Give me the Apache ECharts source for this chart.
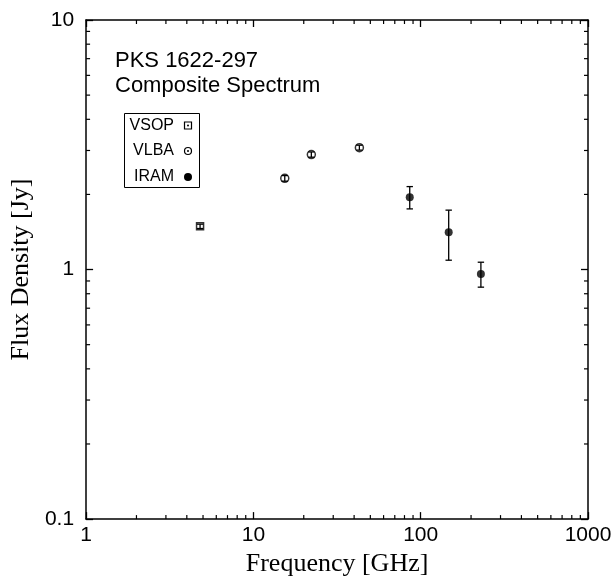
<!DOCTYPE html>
<html>
<head>
<meta charset="utf-8">
<script src="https://cdn.jsdelivr.net/npm/echarts@6/dist/echarts.min.js"></script>
<style>html,body{margin:0;padding:0;background:#fff}#c{width:615px;height:582px}</style>
</head>
<body>
<div id="c"></div>
<script>
// ---- data ----
const vsopFreq = [4.8];
const vsopFlux = [1.49];
const vsopErr  = [0.03];

const vlbaFreq = [15.4, 22.2, 43.0];
const vlbaFlux = [2.32, 2.89, 3.08];
const vlbaErr  = [0.06, 0.07, 0.07];

const iramFreq = [86, 147, 229];
const iramFlux = [1.95, 1.41, 0.96];
const iramErr  = [0.20, 0.32, 0.11];

const xTickLabels = ['1', '10', '100', '1000'];
const yTickLabels = ['0.1', '1', '10'];
const legendNames = ['VSOP', 'VLBA', 'IRAM'];

const SANS = '"Liberation Sans", Arial, sans-serif';
const SERIF = '"Liberation Serif", "Times New Roman", serif';

// minor tick values (2..9 per decade)
const xMinor = [], yMinor = [];
[1, 10, 100].forEach(d => { for (let k = 2; k <= 9; k++) xMinor.push([k * d, 1]); });
[0.1, 1].forEach(d => { for (let k = 2; k <= 9; k++) yMinor.push([1, k * d]); });

const zip3 = (a, b, c) => a.map((v, i) => [v, b[i], c[i]]);

function errRender(params, api) {
  const x = api.value(0), y = api.value(1), e = api.value(2);
  const hi = api.coord([x, y + e]);
  const lo = api.coord([x, y - e]);
  const w = 3.2;
  const st = { stroke: '#000', lineWidth: 1.3 };
  return {
    type: 'group',
    children: [
      { type: 'line', shape: { x1: hi[0], y1: hi[1], x2: lo[0], y2: lo[1] }, style: st },
      { type: 'line', shape: { x1: hi[0] - w, y1: hi[1], x2: hi[0] + w, y2: hi[1] }, style: st },
      { type: 'line', shape: { x1: lo[0] - w, y1: lo[1], x2: lo[0] + w, y2: lo[1] }, style: st }
    ]
  };
}

function xMinorRender(params, api) {
  const cs = params.coordSys;
  const p = api.coord([api.value(0), api.value(1)]);
  const L = 4;
  const st = { stroke: '#000', lineWidth: 1.2 };
  return {
    type: 'group',
    children: [
      { type: 'line', shape: { x1: p[0], y1: cs.y + cs.height, x2: p[0], y2: cs.y + cs.height - L }, style: st },
      { type: 'line', shape: { x1: p[0], y1: cs.y, x2: p[0], y2: cs.y + L }, style: st }
    ]
  };
}
function yMinorRender(params, api) {
  const cs = params.coordSys;
  const p = api.coord([api.value(0), api.value(1)]);
  const L = 4;
  const st = { stroke: '#000', lineWidth: 1.2 };
  return {
    type: 'group',
    children: [
      { type: 'line', shape: { x1: cs.x, y1: p[1], x2: cs.x + L, y2: p[1] }, style: st },
      { type: 'line', shape: { x1: cs.x + cs.width, y1: p[1], x2: cs.x + cs.width - L, y2: p[1] }, style: st }
    ]
  };
}

const axisLineStyle = { color: '#000', width: 1.5 };
const tickStyle = { show: true, inside: true, length: 7, lineStyle: { color: '#000', width: 1.3 } };

const chart = echarts.init(document.getElementById('c'), null, { renderer: 'canvas' });
const option = {
  backgroundColor: '#fff',
  animation: false,
  title: {
    text: 'PKS 1622-297\nComposite Spectrum',
    left: 110, top: 44,
    textStyle: { fontFamily: SANS, fontSize: 22, fontWeight: 'normal', color: '#000', lineHeight: 24.5 }
  },
  grid: { left: 82, right: 27, top: 20, bottom: 56, containLabel: false },
  xAxis: [
    {
      type: 'log', logBase: 10, min: 1, max: 1000, position: 'bottom',
      name: 'Frequency [GHz]', nameLocation: 'middle', nameGap: 28,
      nameTextStyle: { fontFamily: SERIF, fontSize: 26, color: '#000' },
      axisLine: { show: true, lineStyle: axisLineStyle },
      axisTick: tickStyle,
      splitLine: { show: false },
      axisLabel: {
        margin: 6, color: '#000', fontFamily: SANS, fontSize: 21,
        formatter: v => { const i = Math.round(Math.log10(v)); return xTickLabels[i]; }
      }
    },
    {
      type: 'log', logBase: 10, min: 1, max: 1000, position: 'top',
      axisLine: { show: true, lineStyle: axisLineStyle },
      axisTick: tickStyle, axisLabel: { show: false }, splitLine: { show: false }
    }
  ],
  yAxis: [
    {
      type: 'log', logBase: 10, min: 0.1, max: 10, position: 'left',
      name: 'Flux Density [Jy]', nameLocation: 'middle', nameGap: 47,
      nameTextStyle: { fontFamily: SERIF, fontSize: 26, color: '#000' },
      axisLine: { show: true, lineStyle: axisLineStyle },
      axisTick: tickStyle,
      splitLine: { show: false },
      axisLabel: {
        margin: 12, color: '#000', fontFamily: SANS, fontSize: 21,
        padding: [0, 0, 5, 0],
        formatter: v => { const i = Math.round(Math.log10(v)) + 1; return yTickLabels[i]; }
      }
    },
    {
      type: 'log', logBase: 10, min: 0.1, max: 10, position: 'right',
      axisLine: { show: true, lineStyle: axisLineStyle },
      axisTick: tickStyle, axisLabel: { show: false }, splitLine: { show: false }
    }
  ],
  series: [
    { type: 'custom', renderItem: xMinorRender, data: xMinor, silent: true, z: 1 },
    { type: 'custom', renderItem: yMinorRender, data: yMinor, silent: true, z: 1 },
    {
      name: legendNames[0], type: 'scatter', symbol: 'rect', symbolSize: 7,
      itemStyle: { color: '#fff', borderColor: '#000', borderWidth: 1.5 },
      data: vsopFreq.map((f, i) => [f, vsopFlux[i]]), z: 3
    },
    {
      name: legendNames[1], type: 'scatter', symbol: 'circle', symbolSize: 8,
      itemStyle: { color: '#fff', borderColor: '#000', borderWidth: 1.5 },
      data: vlbaFreq.map((f, i) => [f, vlbaFlux[i]]), z: 3
    },
    {
      name: legendNames[2], type: 'scatter', symbol: 'circle', symbolSize: 8,
      itemStyle: { color: '#000' },
      data: iramFreq.map((f, i) => [f, iramFlux[i]]), z: 3
    },
    { type: 'custom', renderItem: errRender, data: zip3(vsopFreq, vsopFlux, vsopErr), encode: { x: 0, y: 1 }, z: 4 },
    { type: 'custom', renderItem: errRender, data: zip3(vlbaFreq, vlbaFlux, vlbaErr), encode: { x: 0, y: 1 }, z: 4 },
    { type: 'custom', renderItem: errRender, data: zip3(iramFreq, iramFlux, iramErr), encode: { x: 0, y: 1 }, z: 2 }
  ],
  graphic: [
    { type: 'rect', shape: { x: 124.5, y: 113.5, width: 75, height: 74 }, style: { fill: '#fff', stroke: '#000', lineWidth: 1 }, z: 10 },
    { type: 'text', x: 174, y: 125.5, style: { text: legendNames[0], fill: '#000', font: '16px ' + SANS, textAlign: 'right', textVerticalAlign: 'middle' }, z: 11 },
    { type: 'text', x: 174, y: 151, style: { text: legendNames[1], fill: '#000', font: '16px ' + SANS, textAlign: 'right', textVerticalAlign: 'middle' }, z: 11 },
    { type: 'text', x: 174, y: 177, style: { text: legendNames[2], fill: '#000', font: '16px ' + SANS, textAlign: 'right', textVerticalAlign: 'middle' }, z: 11 },
    { type: 'rect', shape: { x: 184.5, y: 122, width: 7, height: 7 }, style: { fill: '#fff', stroke: '#000', lineWidth: 1.2 }, z: 11 },
    { type: 'circle', shape: { cx: 188, cy: 125.5, r: 1 }, style: { fill: '#000' }, z: 12 },
    { type: 'circle', shape: { cx: 188, cy: 151, r: 3.5 }, style: { fill: '#fff', stroke: '#000', lineWidth: 1.2 }, z: 11 },
    { type: 'circle', shape: { cx: 188, cy: 151, r: 1 }, style: { fill: '#000' }, z: 12 },
    { type: 'circle', shape: { cx: 188, cy: 177, r: 4 }, style: { fill: '#000' }, z: 11 }
  ]
};
chart.setOption(option);
</script>
</body>
</html>
